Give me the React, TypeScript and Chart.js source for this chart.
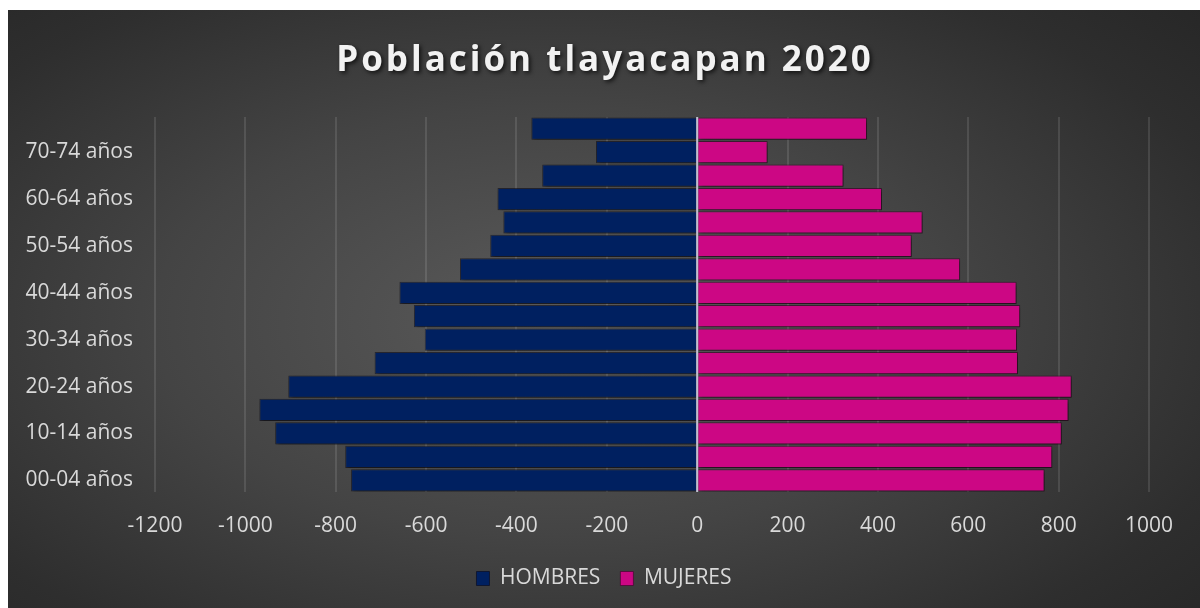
import React, { useEffect, useRef } from "react";
import { Chart, registerables } from "chart.js";

Chart.register(...registerables);

const ageGroups = [
  "00-04 años", "05-09 años", "10-14 años", "15-19 años",
  "20-24 años", "25-29 años", "30-34 años", "35-39 años",
  "40-44 años", "45-49 años", "50-54 años", "55-59 años",
  "60-64 años", "65-69 años", "70-74 años", "75-79 años",
];
const hombres = [-766, -779, -934, -969, -905, -714, -603, -627, -659, -525, -458, -429, -442, -343, -224, -367];
const mujeres = [769, 786, 807, 822, 829, 710, 708, 715, 707, 582, 475, 499, 409, 324, 156, 376];
const xTicks = [-1200, -1000, -800, -600, -400, -200, 0, 200, 400, 600, 800, 1000];
const titleText = "Población tlayacapan 2020";
const seriesNames = ["HOMBRES", "MUJERES"];

const FONT = "'Open Sans', 'Noto Sans', sans-serif";

const titlePlugin = {
  id: "customTitle",
  afterDraw(chart: any) {
    const ctx = chart.ctx;
    ctx.save();
    ctx.font = `bold 35px ${FONT}`;
    try { (ctx as any).letterSpacing = "3px"; } catch (e) {}
    ctx.textAlign = "center";
    ctx.textBaseline = "alphabetic";
    ctx.shadowColor = "rgba(0,0,0,0.7)";
    ctx.shadowBlur = 4;
    ctx.shadowOffsetX = 2;
    ctx.shadowOffsetY = 2;
    ctx.fillStyle = "#f2f2f2";
    ctx.fillText(titleText, 597, 61);
    ctx.restore();
  },
};

const shadowPlugin = {
  id: "barShadow",
  beforeDatasetsDraw(chart: any) {
    const ctx = chart.ctx;
    ctx.save();
    ctx.shadowColor = "rgba(0,0,0,0.45)";
    ctx.shadowBlur = 4;
    ctx.shadowOffsetX = 2;
    ctx.shadowOffsetY = 2;
  },
  afterDatasetsDraw(chart: any) {
    const ctx = chart.ctx;
    ctx.restore();
    const x = chart.scales.x.getPixelForValue(0);
    const area = chart.chartArea;
    ctx.save();
    ctx.strokeStyle = "rgba(196,196,216,0.95)";
    ctx.lineWidth = 2;
    ctx.beginPath();
    ctx.moveTo(x, area.top);
    ctx.lineTo(x, area.bottom);
    ctx.stroke();
    ctx.restore();
  },
};

export default function App() {
  const canvasRef = useRef<HTMLCanvasElement | null>(null);

  useEffect(() => {
    if (!canvasRef.current) return;
    const chart = new Chart(canvasRef.current, {
      type: "bar",
      data: {
        labels: ageGroups,
        datasets: [
          {
            label: seriesNames[0],
            data: hombres,
            yAxisID: "y",
            backgroundColor: "#002060",
            borderColor: "rgba(0,0,20,0.5)",
            borderWidth: 1,
            barPercentage: 0.95,
            categoryPercentage: 1,
          },
          {
            label: seriesNames[1],
            data: mujeres,
            yAxisID: "y",
            backgroundColor: "#CC0784",
            borderColor: "rgba(60,0,40,0.6)",
            borderWidth: 1,
            barPercentage: 0.95,
            categoryPercentage: 1,
          },
        ],
      },
      options: {
        indexAxis: "y",
        animation: false,
        responsive: true,
        maintainAspectRatio: false,
        layout: { padding: { top: 107, right: 0, bottom: 9, left: 0 } },
        plugins: {
          title: { display: false },
          tooltip: { enabled: false },
          legend: {
            display: true,
            position: "bottom",
            labels: {
              color: "#d9d9d9",
              font: { family: FONT, size: 21 },
              boxWidth: 13,
              boxHeight: 14,
              padding: 20,
            },
          },
        },
        scales: {
          x: {
            stacked: true,
            min: -1200,
            max: 1000,
            afterBuildTicks(scale: any) {
              scale.ticks = xTicks.map((v) => ({ value: v }));
            },
            afterFit(scale: any) {
              scale.height = 56;
            },
            ticks: {
              color: "#d9d9d9",
              font: { family: FONT, size: 21 },
              padding: 21,
              maxRotation: 0,
              autoSkip: false,
              callback: (v: any) => String(v),
            },
            grid: {
              color: "rgba(255,255,255,0.11)",
              lineWidth: 2,
              drawTicks: false,
            },
            border: { display: false },
          },
          y: {
            stacked: true,
            reverse: true,
            afterFit(scale: any) {
              scale.width = 147;
            },
            ticks: {
              color: "#d9d9d9",
              font: { family: FONT, size: 21 },
              padding: 22,
              autoSkip: false,
              callback: (_v: any, i: number) => (i % 2 === 0 ? ageGroups[i] : ""),
            },
            grid: { display: false, drawTicks: false },
            border: { display: false },
          },
          yRight: {
            type: "category",
            position: "right",
            display: true,
            afterFit(scale: any) {
              scale.width = 51;
            },
            ticks: { display: false },
            grid: { display: false, drawTicks: false },
            border: { display: false },
          },
        },
      },
      plugins: [shadowPlugin, titlePlugin],
    });
    return () => chart.destroy();
  }, []);

  return (
    <div
      style={{
        position: "absolute",
        left: 8,
        top: 10,
        width: 1192,
        height: 598,
        background:
          "radial-gradient(ellipse 75% 80% at 46% 52%, #5a5a5a 0%, #444444 45%, #2e2e2e 80%, #262626 100%)",
      }}
    >
      <canvas ref={canvasRef} />
    </div>
  );
}
